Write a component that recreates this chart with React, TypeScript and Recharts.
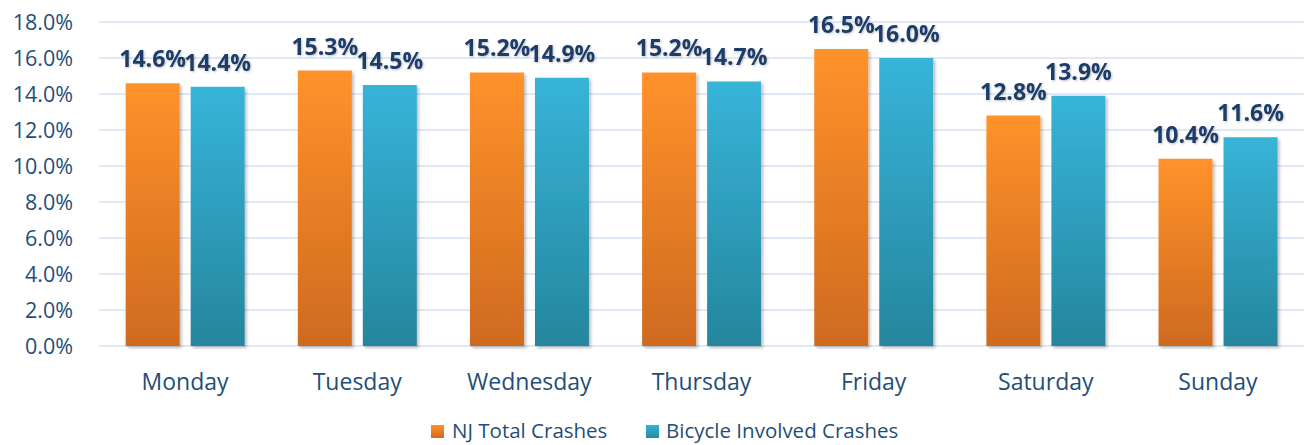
import React from 'react';
import { BarChart, Bar, XAxis, YAxis, CartesianGrid, Legend, LabelList } from 'recharts';

const days = ['Monday', 'Tuesday', 'Wednesday', 'Thursday', 'Friday', 'Saturday', 'Sunday'];
const njTotal = [14.6, 15.3, 15.2, 15.2, 16.5, 12.8, 10.4];
const bicycle = [14.4, 14.5, 14.9, 14.7, 16.0, 13.9, 11.6];
const yTicks = [0, 2, 4, 6, 8, 10, 12, 14, 16, 18];
const seriesNames = ['NJ Total Crashes', 'Bicycle Involved Crashes'];

const data = days.map((d, i) => ({ day: d, nj: njTotal[i], bike: bicycle[i] }));

const FONT = '"Open Sans", sans-serif';
const TEXT = '#1F4E79';
const LABEL = '#1F3D6B';

const fmt = (v: number) => `${v.toFixed(1)}%`;

const LegendContent = () => (
  <div style={{ position: 'relative', height: 29, fontFamily: FONT, fontSize: 20.5, color: TEXT }}>
    <div style={{ position: 'absolute', left: 431, top: 9, width: 13, height: 13, background: 'linear-gradient(#FF8F2A,#D06A1F)' }} />
    <div style={{ position: 'absolute', left: 452, top: 0, lineHeight: '29px', whiteSpace: 'nowrap' }}>{seriesNames[0]}</div>
    <div style={{ position: 'absolute', left: 646, top: 9, width: 13, height: 13, background: 'linear-gradient(#36B3D8,#2688A0)' }} />
    <div style={{ position: 'absolute', left: 666, top: 0, lineHeight: '29px', whiteSpace: 'nowrap' }}>{seriesNames[1]}</div>
  </div>
);

export default function App() {
  return (
    <div style={{ position: 'absolute', left: 0, top: 0, width: 1307, height: 445, background: '#fff' }}>
      <BarChart
        width={1307}
        height={445}
        data={data}
        margin={{ top: 22, right: 3, bottom: 0, left: 0 }}
        barGap={11}
        barCategoryGap="15.5%"
      >
        <defs>
          <linearGradient id="gOrange" x1="0" y1="0" x2="0" y2="1">
            <stop offset="0%" stopColor="#FF922B" />
            <stop offset="100%" stopColor="#CF6A1F" />
          </linearGradient>
          <linearGradient id="gTeal" x1="0" y1="0" x2="0" y2="1">
            <stop offset="0%" stopColor="#37B4D9" />
            <stop offset="100%" stopColor="#25869D" />
          </linearGradient>
          <filter id="shadow" x="-20%" y="-20%" width="140%" height="140%">
            <feDropShadow dx="2" dy="2" stdDeviation="1.5" floodColor="#000" floodOpacity="0.25" />
          </filter>
          <filter id="tshadow" x="-20%" y="-20%" width="140%" height="140%">
            <feDropShadow dx="1" dy="1" stdDeviation="1" floodColor="#000" floodOpacity="0.25" />
          </filter>
        </defs>
        <CartesianGrid vertical={false} stroke="#D5E2F2" strokeWidth={1.5} />
        <XAxis
          dataKey="day"
          axisLine={false}
          tickLine={false}
          tickSize={0}
          tickMargin={28}
          height={70}
          interval={0}
          tick={{ fontFamily: FONT, fontSize: 23, fill: TEXT }}
        />
        <YAxis
          domain={[0, 18]}
          ticks={yTicks}
          axisLine={false}
          tickLine={false}
          tickSize={0}
          tickMargin={26}
          width={99}
          tickFormatter={fmt}
          tick={{ fontFamily: FONT, fontSize: 21.5, fill: TEXT }}
        />
        <Legend verticalAlign="bottom" height={29} content={<LegendContent />} wrapperStyle={{ left: 0, width: 1307 }} />
        <Bar dataKey="nj" name={seriesNames[0]} fill="url(#gOrange)" isAnimationActive={false} style={{ filter: 'url(#shadow)' }}>
          <LabelList
            dataKey="nj"
            position="top"
            offset={16}
            formatter={(v: number) => fmt(v)}
            style={{ fontFamily: FONT, fontSize: 23, fontWeight: 700, fill: LABEL, filter: 'url(#tshadow)' }}
          />
        </Bar>
        <Bar dataKey="bike" name={seriesNames[1]} fill="url(#gTeal)" isAnimationActive={false} style={{ filter: 'url(#shadow)' }}>
          <LabelList
            dataKey="bike"
            position="top"
            offset={16}
            formatter={(v: number) => fmt(v)}
            style={{ fontFamily: FONT, fontSize: 23, fontWeight: 700, fill: LABEL, filter: 'url(#tshadow)' }}
          />
        </Bar>
      </BarChart>
    </div>
  );
}
